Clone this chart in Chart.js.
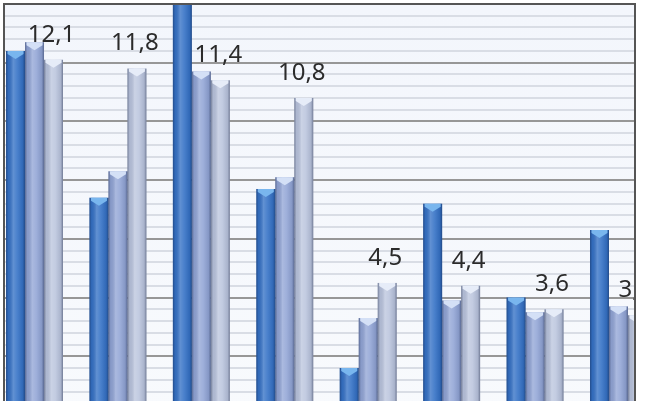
<!DOCTYPE html>
<html>
<head>
<meta charset="utf-8">
<script src="https://cdn.jsdelivr.net/npm/chart.js@4"></script>
<style>
  html, body { margin: 0; padding: 0; background: #fff; overflow: hidden; width: 645px; height: 401px; }
  #wrap { position: absolute; left: -20px; top: 0; width: 700px; height: 420px; }
</style>
</head>
<body>
<div id="wrap"><canvas id="barChart"></canvas></div>
<script>
/* DATA */
const categories = ['1', '2', '3', '4', '5', '6', '7', '8'];
const series1 = [12.4, 7.4, 14.8, 7.7, 1.6, 7.2, 4.0, 6.3];
const series2 = [12.7, 8.3, 11.7, 8.1, 3.3, 3.9, 3.5, 3.7];
const series3 = [12.1, 11.8, 11.4, 10.8, 4.5, 4.4, 3.6, 3.4];
const yMin = 0;
const yMax = 14;
const minorStep = 0.4;
const majorStep = 2;

// plot frame, canvas px (canvas is shifted 20px left of the window)
const FRAME = { left: 24, right: 655, top: 4 };

function isMajor(v) {
  return Math.abs(v / majorStep - Math.round(v / majorStep)) < 1e-6;
}

const framePlugin = {
  id: 'frame',
  beforeDraw(chart) {
    const ctx = chart.ctx;
    const h = chart.height;
    ctx.save();
    const bg = ctx.createLinearGradient(0, FRAME.top, 0, h);
    bg.addColorStop(0, '#f3f6fc');
    bg.addColorStop(1, '#f8fafd');
    ctx.fillStyle = bg;
    ctx.fillRect(FRAME.left, FRAME.top, FRAME.right - FRAME.left, h - FRAME.top);
    ctx.beginPath();
    ctx.rect(FRAME.left, FRAME.top, FRAME.right - FRAME.left, h - FRAME.top);
    ctx.clip();
  },
  afterDatasetsDraw(chart) {
    const ctx = chart.ctx;
    // cylinder shading + top caps
    chart.data.datasets.forEach((ds, di) => {
      const meta = chart.getDatasetMeta(di);
      meta.data.forEach((bar) => {
        const { x, y, width, base } = bar.getProps(['x', 'y', 'width', 'base'], true);
        const l = x - width / 2;
        const r = x + width / 2;
        const g = ctx.createLinearGradient(l, 0, r, 0);
        g.addColorStop(0, 'rgba(10,20,50,0.40)');
        g.addColorStop(0.12, 'rgba(10,20,50,0.08)');
        g.addColorStop(0.38, 'rgba(255,255,255,0.22)');
        g.addColorStop(0.6, 'rgba(255,255,255,0.10)');
        g.addColorStop(0.88, 'rgba(10,20,50,0.10)');
        g.addColorStop(1, 'rgba(10,20,50,0.42)');
        ctx.fillStyle = g;
        ctx.fillRect(l, y, width, base - y);
        ctx.fillStyle = ds.capColor;
        ctx.beginPath();
        ctx.moveTo(l + 1.5, y);
        ctx.lineTo(r - 1.5, y);
        ctx.lineTo(r - 1.5, y + 3);
        ctx.lineTo(x, y + 8);
        ctx.lineTo(l + 1.5, y + 3);
        ctx.closePath();
        ctx.fill();
      });
    });
    // value labels on the third series
    const meta3 = chart.getDatasetMeta(2);
    ctx.fillStyle = '#2b2b2b';
    ctx.font = '24px "Noto Sans", sans-serif';
    ctx.textAlign = 'center';
    ctx.textBaseline = 'middle';
    meta3.data.forEach((bar, i) => {
      const txt = series3[i].toFixed(1).replace('.', ',');
      ctx.fillText(txt, bar.x - 2, bar.y - 25);
    });
  },
  afterDraw(chart) {
    const ctx = chart.ctx;
    ctx.restore();
    ctx.save();
    ctx.strokeStyle = '#555';
    ctx.lineWidth = 2;
    ctx.beginPath();
    ctx.moveTo(FRAME.left, chart.height);
    ctx.lineTo(FRAME.left, FRAME.top);
    ctx.lineTo(FRAME.right, FRAME.top);
    ctx.lineTo(FRAME.right, chart.height);
    ctx.stroke();
    ctx.restore();
  },
};

new Chart(document.getElementById('barChart'), {
  type: 'bar',
  data: {
    labels: categories,
    datasets: [
      { data: series1, backgroundColor: '#3572c6', capColor: '#79b6ee', borderWidth: 0 },
      { data: series2, backgroundColor: '#93a6d6', capColor: '#d4e0f6', borderWidth: 0 },
      { data: series3, backgroundColor: '#bcc6de', capColor: '#e6ecf8', borderWidth: 0 },
    ],
  },
  options: {
    responsive: true,
    maintainAspectRatio: false,
    animation: false,
    categoryPercentage: 0.683,
    barPercentage: 1.0,
    layout: { padding: { left: 12.8, right: 19.8, top: 4, bottom: 5 } },
    plugins: {
      legend: { display: false },
      tooltip: { enabled: false },
    },
    scales: {
      x: { display: false },
      y: {
        min: yMin,
        max: yMax,
        afterFit(scale) { scale.width = 0; },
        ticks: { display: false, stepSize: minorStep },
        border: { display: false },
        grid: {
          drawTicks: false,
          color: (ctx) => (isMajor(ctx.tick.value) ? '#979797' : '#d9dde5'),
          lineWidth: (ctx) => (isMajor(ctx.tick.value) ? 2 : 2),
        },
      },
    },
  },
  plugins: [framePlugin],
});
</script>
</body>
</html>
